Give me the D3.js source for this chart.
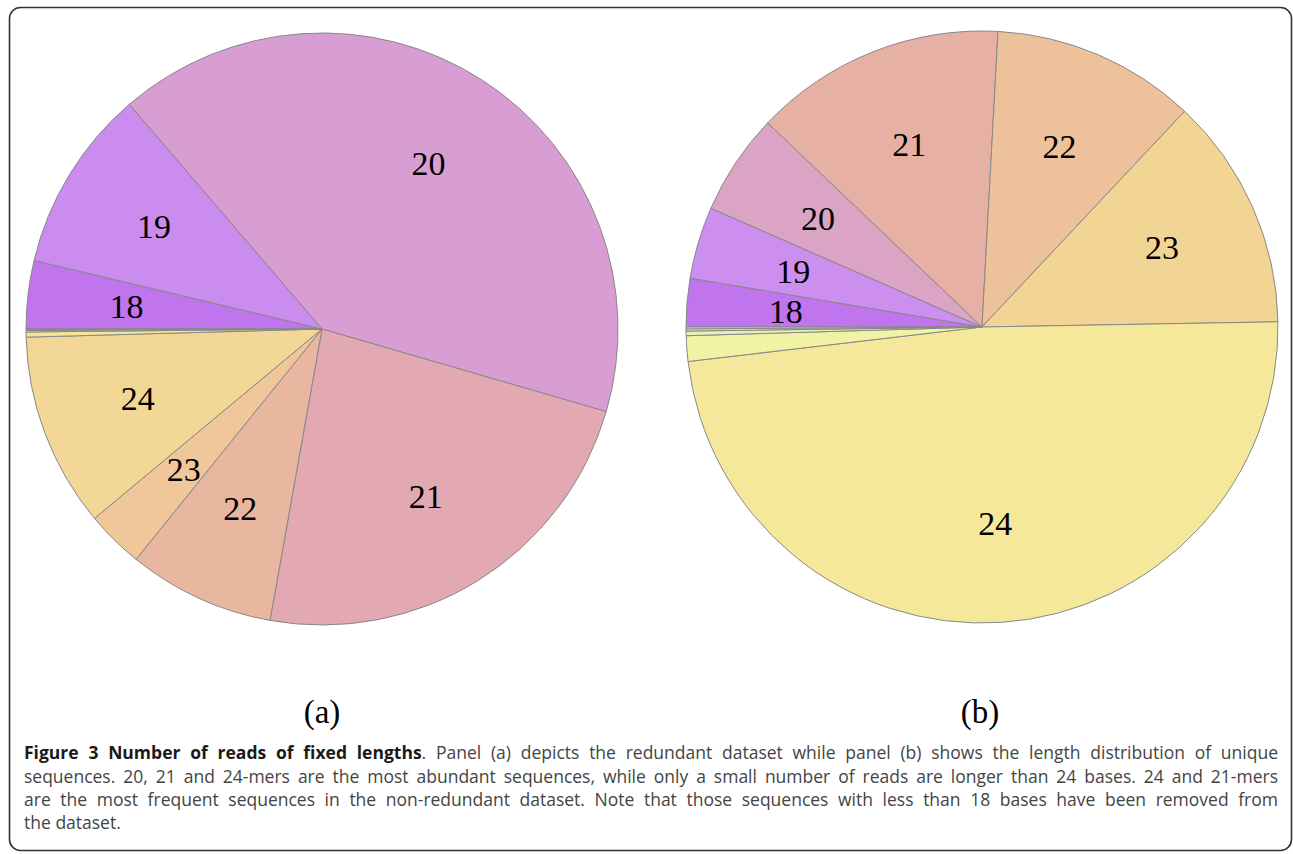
<!DOCTYPE html>
<html>
<head>
<meta charset="utf-8">
<script src="https://cdn.jsdelivr.net/npm/d3@7"></script>
<style>
  body { margin: 0; background: #fff; }
  svg { display: block; }
</style>
</head>
<body>
<div id="chart"></div>
<script>
// read lengths (bases) and share of reads in each panel, percent
var lengths = ["18", "19", "20", "21", "22", "23", "24", "25", "26", "27", "28"];
var redundant = [3.72, 10.0, 40.78, 23.31, 8.0, 3.14, 10.61, 0.28, 0.08, 0.05, 0.03];
var unique = [2.64, 3.93, 5.54, 13.75, 11.14, 12.72, 48.42, 1.39, 0.25, 0.12, 0.10];

// only these get a label inside the slice
var labelled = ["18", "19", "20", "21", "22", "23", "24"];

var coloursA = ["#c075ee", "#cb8cf0", "#d89ed3", "#e2a9b3", "#e9b79f", "#efc79b", "#f3d796", "#f4e699", "#eef0a8", "#e0eec0", "#d6ead2"];
var coloursB = ["#c075ee", "#cc8ff0", "#dca4c4", "#e6b1a4", "#edc29a", "#f2d595", "#f5e89a", "#f1f2a4", "#e8f0b8", "#dcecc8", "#d2e8d8"];

var panelNames = ["(a)", "(b)"];

var captionLines = [
  [["Figure 3 Number of reads of fixed lengths", true], [". Panel (a) depicts the redundant dataset while panel (b) shows the length distribution of unique", false]],
  [["sequences. 20, 21 and 24-mers are the most abundant sequences, while only a small number of reads are longer than 24 bases. 24 and 21-mers", false]],
  [["are the most frequent sequences in the non-redundant dataset. Note that those sequences with less than 18 bases have been removed from", false]],
  [["the dataset.", false]]
];

var width = 1293, height = 854;
var radius = 296;

var svg = d3.select("#chart")
  .append("svg")
  .attr("width", width)
  .attr("height", height);

// rounded frame round the whole figure
svg.append("rect")
  .attr("x", 9.5)
  .attr("y", 7.5)
  .attr("width", 1282)
  .attr("height", 843)
  .attr("rx", 11)
  .attr("fill", "none")
  .attr("stroke", "#333")
  .attr("stroke-width", 1.6);

var pie = d3.pie()
  .sort(null)
  .startAngle(-Math.PI / 2)
  .endAngle(3 * Math.PI / 2);

var arc = d3.arc().innerRadius(0).outerRadius(radius);
var labelArc = d3.arc().innerRadius(radius * 0.665).outerRadius(radius * 0.665);

function drawPie(values, colours, cx, cy) {
  var g = svg.append("g")
    .attr("transform", "translate(" + cx + "," + cy + ")");

  var slices = pie(values);

  g.selectAll("path")
    .data(slices)
    .join("path")
    .attr("d", arc)
    .attr("fill", function(d, i) { return colours[i]; })
    .attr("stroke", "#888")
    .attr("stroke-width", 1);

  g.selectAll("text")
    .data(slices.filter(function(d, i) { return labelled.indexOf(lengths[i]) >= 0; }))
    .join("text")
    .attr("transform", function(d) { return "translate(" + labelArc.centroid(d) + ")"; })
    .attr("dy", "0.35em")
    .attr("text-anchor", "middle")
    .style("font-family", "'Liberation Serif', 'Times New Roman', serif")
    .style("font-size", "34px")
    .style("fill", "#000")
    .text(function(d) { return lengths[d.index]; });
}

drawPie(redundant, coloursA, 322, 329);
drawPie(unique, coloursB, 982, 327);

// panel names under each pie
svg.selectAll("text.panel")
  .data(panelNames)
  .join("text")
  .attr("class", "panel")
  .attr("x", function(d, i) { return i == 0 ? 322 : 980; })
  .attr("y", 723)
  .attr("text-anchor", "middle")
  .style("font-family", "'Liberation Serif', 'Times New Roman', serif")
  .style("font-size", "33px")
  .style("fill", "#000")
  .text(function(d) { return d; });

// caption, justified by hand: each word is placed on its own
var capLeft = 24, capRight = 1278;
var baselines = [759, 782.5, 806, 829];

captionLines.forEach(function(line, li) {
  // split the line into words, keeping the bold flag of each piece
  var words = [];
  line.forEach(function(seg) {
    var parts = seg[0].split(" ");
    parts.forEach(function(p, pi) {
      if (pi == 0 && words.length && seg[0][0] != " ") {
        if (p.length) words[words.length - 1].push([p, seg[1]]);
      } else if (p.length) {
        words.push([[p, seg[1]]]);
      }
    });
  });

  var nodes = words.map(function(w) {
    var t = svg.append("text")
      .attr("y", baselines[li])
      .style("font-family", "'Open Sans', sans-serif")
      .style("font-size", "17.5px")
      .style("fill", "#444");
    w.forEach(function(p) {
      t.append("tspan")
        .style("font-weight", p[1] ? "bold" : "normal")
        .style("fill", p[1] ? "#1a1a1a" : "#444")
        .text(p[0]);
    });
    return t;
  });

  var widths = nodes.map(function(t) { return t.node().getComputedTextLength(); });
  var total = d3.sum(widths);
  var gap = 4.6;
  if (li < captionLines.length - 1) gap = (capRight - capLeft - total) / (nodes.length - 1);
  var x = capLeft;
  nodes.forEach(function(t, i) {
    t.attr("x", x);
    x += widths[i] + gap;
  });
});
</script>
</body>
</html>
